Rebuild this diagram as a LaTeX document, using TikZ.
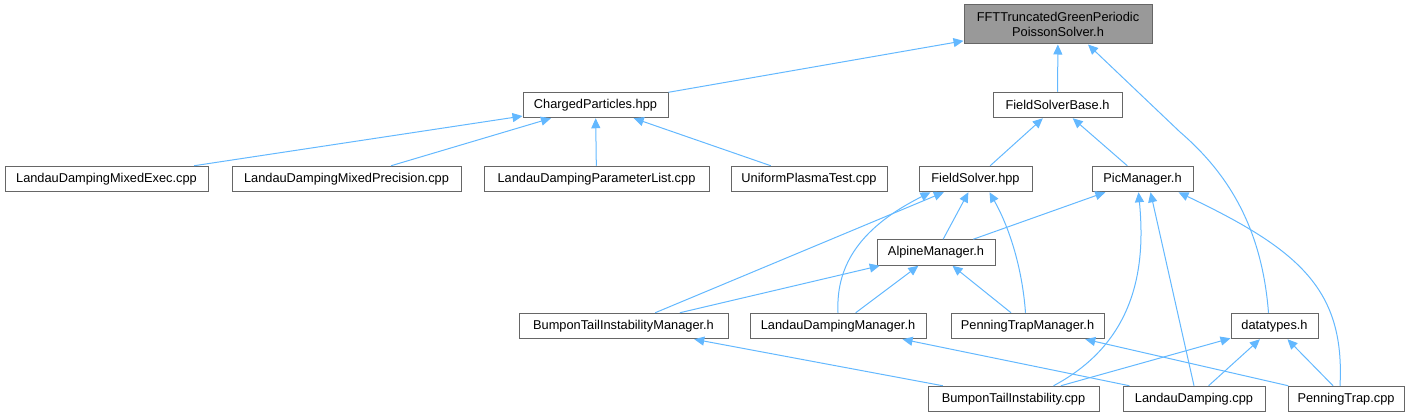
\documentclass[tikz,border=0pt]{standalone}
\usepackage{fontspec}
\setmainfont{Liberation Sans}
\usetikzlibrary{arrows.meta,calc}
\definecolor{edgeblue}{HTML}{63B8FF}
\definecolor{boxgray}{HTML}{666666}
\definecolor{headfill}{HTML}{999999}
\begin{document}
\begin{tikzpicture}[x=1pt,y=-1pt,
  box/.style={draw=boxgray, line width=1pt, fill=white, inner sep=0pt,
    minimum height=25.5pt, font=\fontsize{12.8}{15.5}\selectfont, align=center},
  dep/.style={draw=edgeblue, line width=1pt, -{Triangle[length=10pt,width=9pt]}},
]
\useasboundingbox (0,0) rectangle (1411,417);

\node[box, fill=headfill, minimum width=188pt, minimum height=39pt] (fft) at (1058,24.5) {FFTTruncatedGreenPeriodic\\PoissonSolver.h};
\node[box, minimum width=145pt] (cp) at (595.5,105) {ChargedParticles.hpp};
\node[box, minimum width=129pt] (fsb) at (1057.5,105) {FieldSolverBase.h};
\node[box, minimum width=203pt] (ldme) at (106.5,179) {LandauDampingMixedExec.cpp};
\node[box, minimum width=229pt] (ldmp) at (346.5,179) {LandauDampingMixedPrecision.cpp};
\node[box, minimum width=225pt] (ldpl) at (596.5,179) {LandauDampingParameterList.cpp};
\node[box, minimum width=156pt] (upt) at (809,179) {UniformPlasmaTest.cpp};
\node[box, minimum width=113pt] (fs) at (975.5,179) {FieldSolver.hpp};
\node[box, minimum width=101pt] (pic) at (1142.5,179) {PicManager.h};
\node[box, minimum width=118pt] (alp) at (936,252.5) {AlpineManager.h};
\node[box, minimum width=209pt] (btim) at (623.5,326) {BumponTailInstabilityManager.h};
\node[box, minimum width=176pt] (ldm) at (838,326) {LandauDampingManager.h};
\node[box, minimum width=153pt] (ptm) at (1027.5,326) {PenningTrapManager.h};
\node[box, minimum width=87pt] (dt) at (1274.5,326) {datatypes.h};
\node[box, minimum width=171pt] (bti) at (1013.5,399) {BumponTailInstability.cpp};
\node[box, minimum width=142pt] (ld) at (1194,399) {LandauDamping.cpp};
\node[box, minimum width=116pt] (pt) at (1346,399) {PenningTrap.cpp};

\coordinate (dtbend) at (1180,132);

% to FFT header
\draw[dep] (cp) -- (fft);
\draw[dep] (fsb) -- (fft);
\draw[dep] ($(dt.north)+(-6,0)$) .. controls (1262,230) and (1230,175) .. (dtbend) -- ($(fft.south)+(30,0)$);

% to ChargedParticles
\draw[dep] (ldme) -- (cp);
\draw[dep] (ldmp) -- (cp);
\draw[dep] (ldpl) -- (cp);
\draw[dep] (upt) -- (cp);

% to FieldSolverBase
\draw[dep] (fs) -- (fsb);
\draw[dep] (pic) -- (fsb);

% to FieldSolver.hpp
\draw[dep] (alp) -- (fs);
\draw[dep] (btim) -- (fs);
\draw[dep] (ldm.north) .. controls (836,270) and (855,230) .. ($(fs.south)+(-45,0)$);
\draw[dep] ($(ptm.north)+(-2,0)$) .. controls (1022,265) and (1008,225) .. ($(fs.south)+(14,0)$);

% to PicManager
\draw[dep] (alp) -- (pic);
\draw[dep] ($(bti.north)+(40,0)$) .. controls (1140,340) and (1145,260) .. ($(pic.south)+(-4,0)$);
\draw[dep] (ld.north) -- ($(pic.south)+(8,0)$);
\draw[dep] ($(pt.north)+(-6,0)$) .. controls (1345,290) and (1300,250) .. ($(pic.south)+(36,0)$);

% to AlpineManager
\draw[dep] (btim) -- (alp);
\draw[dep] (ldm) -- (alp);
\draw[dep] (ptm) -- (alp);

% to managers
\draw[dep] (bti) -- (btim);
\draw[dep] (ld) -- (ldm);
\draw[dep] (pt) -- (ptm);

% to datatypes
\draw[dep] (bti) -- (dt);
\draw[dep] (ld) -- (dt);
\draw[dep] (pt) -- (dt);
\end{tikzpicture}
\end{document}
